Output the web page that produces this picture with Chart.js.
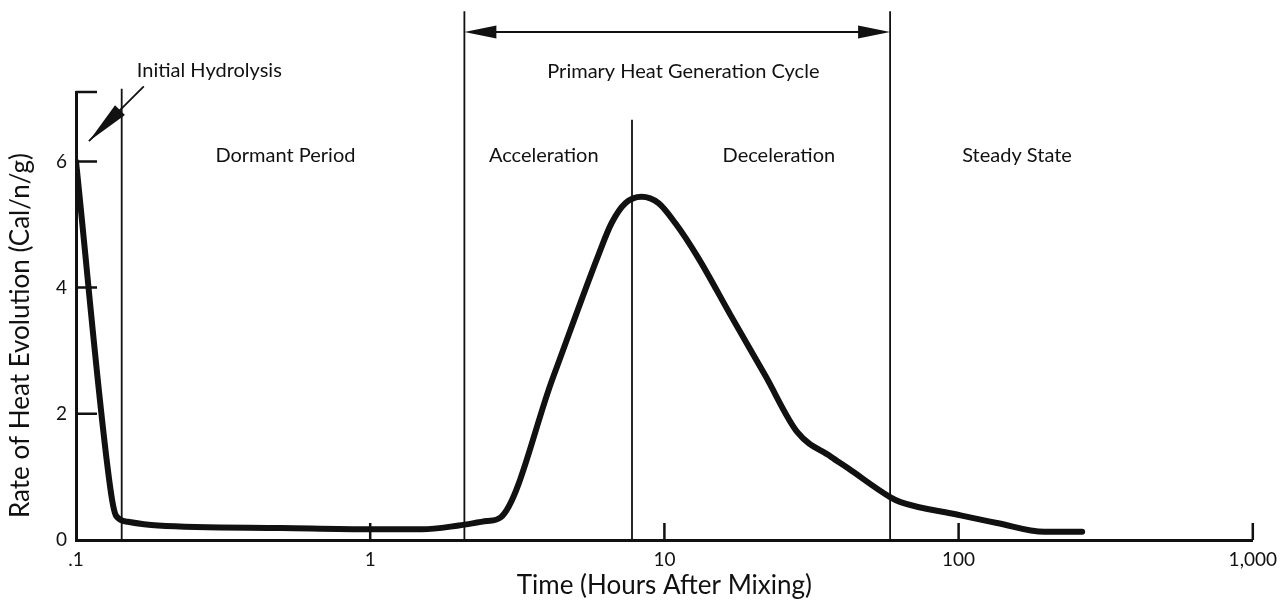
<!DOCTYPE html>
<html>
<head>
<meta charset="utf-8">
<script src="https://cdn.jsdelivr.net/npm/chart.js@4"></script>
<style>
  body { margin: 0; background: #fff; }
  #wrap { width: 1285px; height: 609px; }
</style>
</head>
<body>
<div id="wrap"><canvas id="heatChart"></canvas></div>
<script>
// time after mixing (hours) and rate of heat evolution
const hours = [0.1, 0.131, 0.137, 0.15, 0.19, 0.5, 1, 1.5, 2, 2.5, 2.78, 4.17, 5.97, 6.61, 7.38, 8.36, 9.55, 10.9, 13.0, 16.9, 22.0, 28.4, 36.8, 42, 58.5, 63.5, 99.4, 135, 196, 263];
const heatRate = [6.0, 0.8, 0.38, 0.29, 0.23, 0.19, 0.17, 0.17, 0.23, 0.3, 0.36, 2.56, 4.52, 5.02, 5.34, 5.44, 5.34, 5.02, 4.48, 3.54, 2.61, 1.70, 1.32, 1.14, 0.68, 0.6, 0.40, 0.27, 0.13, 0.13];

const xTicks = [0.1, 1, 10, 100, 1000];
const xTickLabels = ['.1', '1', '10', '100', '1,000'];
const yTicks = [0, 2, 4, 6];

// phase boundaries (hours)
const boundaries = [0.143, 2.09, 7.76, 58.5];
const phaseNames = ['Dormant Period', 'Acceleration', 'Deceleration', 'Steady State'];
const phaseCenters = [0.515, 3.89, 24.5, 158];

const FONT = 'Lato, "Open Sans", sans-serif';

const points = hours.map(function(h, i) { return { x: h, y: heatRate[i] }; });

const annotate = {
  id: 'annotate',
  afterDraw: function(chart) {
    var ctx = chart.ctx;
    var xs = chart.scales.x, ys = chart.scales.y;
    var X = function(v) { return xs.getPixelForValue(v); };
    var Y = function(v) { return ys.getPixelForValue(v); };
    var bottom = chart.chartArea.bottom;
    ctx.save();
    ctx.strokeStyle = '#111';
    ctx.fillStyle = '#111';

    // inward tick marks
    ctx.lineWidth = 2.5;
    ctx.beginPath();
    xTicks.slice(1).forEach(function(v) {
      ctx.moveTo(X(v), bottom); ctx.lineTo(X(v), bottom - 17);
    });
    yTicks.slice(1).concat([ys.max]).forEach(function(v) {
      ctx.moveTo(X(0.1), Y(v)); ctx.lineTo(X(0.1) + 21, Y(v));
    });
    ctx.stroke();

    // phase boundary lines
    var tops = [7.15, 8.38, 6.66, 8.38];
    ctx.lineWidth = 1.8;
    ctx.beginPath();
    boundaries.forEach(function(b, i) {
      ctx.moveTo(X(b), Y(tops[i])); ctx.lineTo(X(b), bottom);
    });
    ctx.stroke();

    // double arrow for primary heat generation cycle
    var ay = Y(8.05), ax1 = X(boundaries[1]), ax2 = X(boundaries[3]);
    ctx.lineWidth = 2;
    ctx.beginPath();
    ctx.moveTo(ax1 + 20, ay); ctx.lineTo(ax2 - 20, ay);
    ctx.stroke();
    ctx.beginPath();
    ctx.moveTo(ax1, ay); ctx.lineTo(ax1 + 32, ay - 6.5); ctx.lineTo(ax1 + 32, ay + 6.5); ctx.closePath();
    ctx.moveTo(ax2, ay); ctx.lineTo(ax2 - 32, ay - 6.5); ctx.lineTo(ax2 - 32, ay + 6.5); ctx.closePath();
    ctx.fill();

    // initial hydrolysis arrow
    var tx = X(0.1106), ty = Y(6.32), sx = X(0.17), sy = Y(7.19);
    var ang = Math.atan2(sy - ty, sx - tx);
    ctx.lineWidth = 1.8;
    ctx.beginPath();
    ctx.moveTo(sx, sy); ctx.lineTo(tx, ty);
    ctx.stroke();
    var hl = 44, hw = 7;
    var bx = tx + Math.cos(ang) * hl, by = ty + Math.sin(ang) * hl;
    ctx.beginPath();
    ctx.moveTo(tx, ty);
    ctx.lineTo(bx - Math.sin(ang) * hw, by + Math.cos(ang) * hw);
    ctx.lineTo(bx + Math.sin(ang) * hw, by - Math.cos(ang) * hw);
    ctx.closePath();
    ctx.fill();

    // texts
    ctx.font = '20px ' + FONT;
    ctx.textBaseline = 'alphabetic';
    ctx.textAlign = 'center';
    phaseNames.forEach(function(n, i) {
      ctx.fillText(n, X(phaseCenters[i]), Y(5.99));
    });
    ctx.fillText('Primary Heat Generation Cycle', X(11.6), Y(7.32));
    ctx.textAlign = 'left';
    ctx.fillText('Initial Hydrolysis', X(0.161), Y(7.34));

    // y axis title
    ctx.font = '26px ' + FONT;
    ctx.textAlign = 'center';
    ctx.textBaseline = 'middle';
    ctx.translate(21, Y(3.24));
    ctx.rotate(-Math.PI / 2);
    ctx.fillText('Rate of Heat Evolution (Cal/n/g)', 0, 0);
    ctx.restore();
  }
};

new Chart(document.getElementById('heatChart'), {
  type: 'line',
  data: {
    datasets: [{
      data: points,
      borderColor: '#111',
      borderWidth: 6,
      pointRadius: 0,
      cubicInterpolationMode: 'monotone',
      borderCapStyle: 'round',
      borderJoinStyle: 'round',
      fill: false
    }]
  },
  options: {
    responsive: true,
    maintainAspectRatio: false,
    animation: false,
    layout: { padding: { left: 0, right: 29, top: 92, bottom: 0 } },
    plugins: { legend: { display: false }, tooltip: { enabled: false } },
    scales: {
      x: {
        type: 'logarithmic',
        min: 0.1,
        max: 1000,
        afterBuildTicks: function(scale) { scale.ticks = xTicks.map(function(v) { return { value: v }; }); },
        afterFit: function(scale) { scale.height = 69; },
        ticks: {
          color: '#111',
          font: { family: FONT, size: 19 },
          padding: 8,
          maxRotation: 0,
          autoSkip: false,
          callback: function(v) { var i = xTicks.indexOf(v); return i >= 0 ? xTickLabels[i] : ''; }
        },
        grid: { display: false, drawTicks: false },
        border: { display: true, color: '#111', width: 3 },
        title: {
          display: true,
          text: 'Time (Hours After Mixing)',
          color: '#111',
          font: { family: FONT, size: 26 },
          padding: { top: 0, bottom: 8 }
        }
      },
      y: {
        min: 0,
        max: 7.1,
        afterBuildTicks: function(scale) { scale.ticks = yTicks.map(function(v) { return { value: v }; }); },
        afterFit: function(scale) { scale.width = 76; },
        ticks: {
          color: '#111',
          font: { family: FONT, size: 19 },
          padding: 9
        },
        grid: { display: false, drawTicks: false },
        border: { display: true, color: '#111', width: 3 }
      }
    }
  },
  plugins: [annotate]
});
</script>
</body>
</html>
